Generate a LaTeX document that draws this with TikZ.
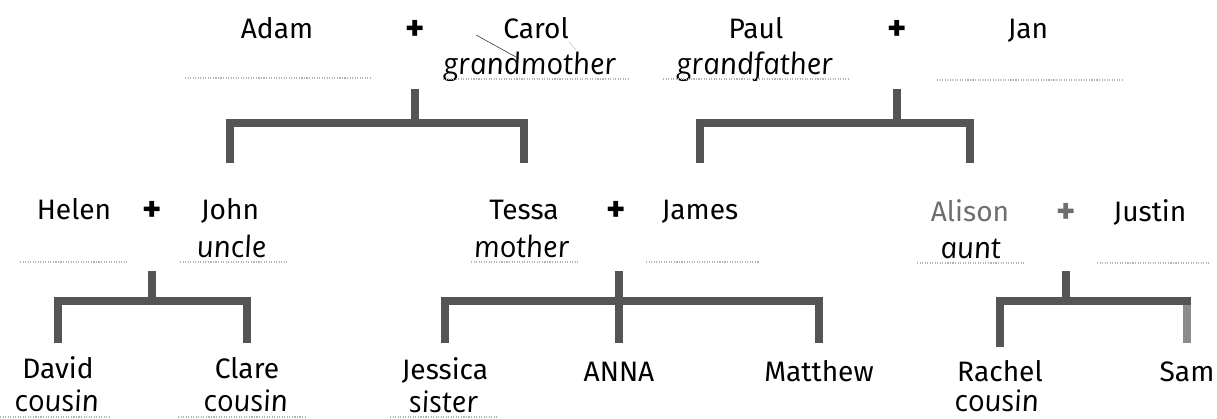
\documentclass[tikz,border=0pt]{standalone}
\usepackage{fontspec}
\setmainfont{Fira Sans}
\newfontfamily\handFont{Open Sans}[ItalicFeatures={FakeSlant=-0.16}]
\usepackage{xcolor}
\newcommand{\pxScale}{0.025}
\definecolor{bracketGrey}{HTML}{555555}
\definecolor{legGrey}{HTML}{8C8C8C}
\definecolor{lineGrey}{HTML}{B4B4B4}
\definecolor{auntGrey}{HTML}{6E6E6E}

\begin{document}
\begin{tikzpicture}[x=\pxScale cm, y=-\pxScale cm,
  person/.style={anchor=base, inner sep=0pt, font=\fontsize{20}{22}\selectfont},
  plussign/.style={anchor=base, inner sep=0pt, font=\bfseries\fontsize{26}{28}\selectfont},
  hand/.style={anchor=base, inner sep=0pt, font=\handFont\itshape\fontsize{21}{23}\selectfont},
  bracket/.style={draw=bracketGrey, line width=5pt, line join=miter},
  writeline/.style={draw=lineGrey, line width=0.8pt, densely dotted}]
\useasboundingbox (0,0) rectangle (1217,419);

% grandparents
\node[person] (adam) at (277,39) {Adam};
\node[plussign] (plusAC) at (415,41) {+};
\node[person] (carol) at (536,39) {Carol};
\node[person] (paul) at (756,39) {Paul};
\node[plussign] (plusPJ) at (897,41) {+};
\node[person] (jan) at (1028,39) {Jan};
\node[hand] (lbCarol) at (531,75) {grandmother};
\node[hand] (lbPaul) at (756,75) {grandfather};
\draw[black!80, thin] (476,35) -- (516,57);
\draw[black!35, very thin] (569,42) -- (576,50);

\draw[writeline] (185,78) -- (372,78);
\draw[writeline] (443,79) -- (628,79);
\draw[writeline] (663,79) -- (849,79);
\draw[writeline] (937,80) -- (1124,80);

% parents
\node[person] (helen) at (74,220) {Helen};
\node[plussign] (plusHJ) at (152,222) {+};
\node[person] (john) at (230,220) {John};
\node[person] (tessa) at (524,220) {Tessa};
\node[plussign] (plusTJ) at (616,222) {+};
\node[person] (james) at (700,220) {James};
\node[person, text=auntGrey] (alison) at (970,222) {Alison};
\node[plussign, text=auntGrey] (plusAJ) at (1066,224) {+};
\node[person] (justin) at (1150,222) {Justin};
\node[hand] (lbJohn) at (233,258) {uncle};
\node[hand] (lbTessa) at (523,258) {mother};
\node[hand] (lbAlison) at (972,259) {aunt};

\draw[writeline] (20,262) -- (128,262);
\draw[writeline] (180,262) -- (287,262);
\draw[writeline] (471,262) -- (578,262);
\draw[writeline] (646,262) -- (759,262);
\draw[writeline] (917,263) -- (1025,263);
\draw[writeline] (1097,263) -- (1209,263);

% children
\node[person] (david) at (58,378) {David};
\node[person] (clare) at (247,378) {Clare};
\node[person] (jessica) at (445,379) {Jessica};
\node[person] (anna) at (619,381) {ANNA};
\node[person] (matthew) at (819,381) {Matthew};
\node[person] (rachel) at (1000,382) {Rachel};
\node[person] (sam) at (1187,381) {Sam};
\node[hand] (lbDavid) at (58,411) {cousin};
\node[hand] (lbClare) at (247,411) {cousin};
\node[hand] (lbJessica) at (445,412) {sister};
\node[hand] (lbRachel) at (998,411) {cousin};

\draw[writeline] (0,417) -- (110,417);
\draw[writeline] (178,417) -- (307,417);
\draw[writeline] (390,417) -- (498,417);

% brackets
\coordinate (stemA) at (0,89);
\coordinate (barA) at (0,123);
\coordinate (legA) at (0,163);
\coordinate (stemB) at (0,271);
\coordinate (barB) at (0,301);
\coordinate (legB) at (0,343);

\draw[bracket] (plusAC |- stemA) -- (plusAC |- barA);
\draw[bracket] (john |- legA) |- (tessa |- barA) -- (tessa |- legA);
\draw[bracket] (plusPJ |- stemA) -- (plusPJ |- barA);
\draw[bracket] (james |- legA) |- (alison |- barA) -- (alison |- legA);

\draw[bracket] (plusHJ |- stemB) -- (plusHJ |- barB);
\draw[bracket] (david |- legB) |- (clare |- barB) -- (clare |- legB);
\draw[bracket] (anna |- stemB) -- (anna |- legB);
\draw[bracket] (jessica |- legB) |- (matthew |- barB) -- (matthew |- legB);
\draw[bracket] (plusAJ |- stemB) -- (plusAJ |- barB);
\draw[bracket, draw=legGrey] (sam |- barB) -- (sam |- legB);
\draw[bracket, line cap=rect] (rachel |- legB) |- (sam |- barB);
\end{tikzpicture}
\end{document}
